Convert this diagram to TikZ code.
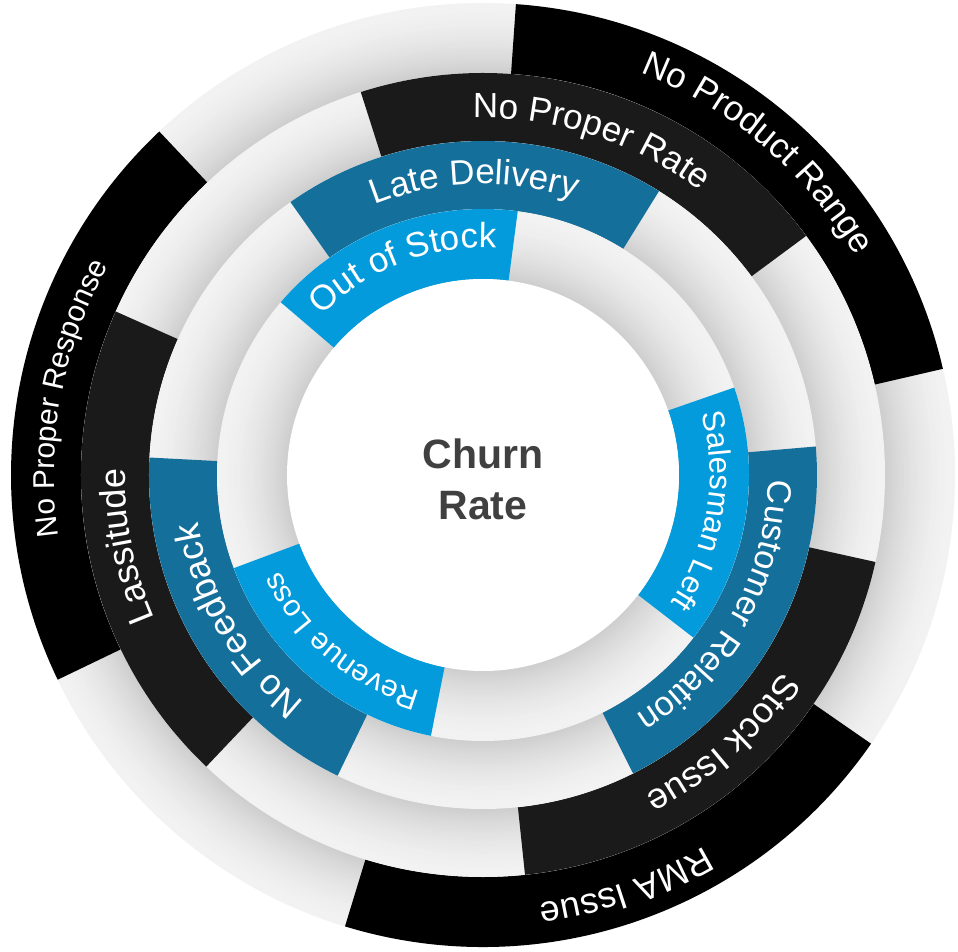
\documentclass[tikz,border=0pt]{standalone}
\usepackage{fontspec}
\setmainfont{Liberation Sans}
\usetikzlibrary{decorations.text}

\definecolor{ringlight}{HTML}{F2F2F2}
\definecolor{ringdark}{HTML}{CDCDCD}
\definecolor{skyblue}{HTML}{039BDB}
\definecolor{seablue}{HTML}{146F9B}
\definecolor{charcoal}{HTML}{1A1A1A}
\definecolor{titlegray}{HTML}{404040}

% grey band shaded from light (outer edge) to dark (inner edge)
\newcommand\shadedband[2]{%
  \foreach \k in {0,...,30}{%
    \pgfmathsetmacro\rr{#1-\k*(#1-#2)/30}%
    \pgfmathtruncatemacro\pp{100*(\k/30)^1.7}%
    \fill[ringdark!\pp!ringlight] (0,0) circle[radius=\rr];
  }}

% coloured block arc: colour, inner radius, outer radius, from angle, to angle
\newcommand\blockarc[5]{%
  \fill[#1] (#4:#3) arc[start angle=#4, end angle=#5, radius=#3]
    -- (#5:#2) arc[start angle=#5, end angle=#4, radius=#2] -- cycle;}

% white label running clockwise: size, baseline radius, from angle, to angle, text
\newcommand\arclabel[5]{%
  \path[decorate, decoration={text along path, text align=center,
      text={|\fontsize{#1}{#1}\selectfont\color{white}|#5}}]
    (#3:#2) arc[start angle=#3, end angle=#4, radius=#2];}

\begin{document}
\begin{tikzpicture}[x=1pt, y=1pt]
  \useasboundingbox (-483,-476) rectangle (475,475);
  \fill[white] (-483,-476) rectangle (475,475);

  % outer band
  \shadedband{472}{402}
  \blockarc{black}{402}{472}{13}{86}
  \blockarc{black}{402}{472}{-107}{-34.7}
  \blockarc{black}{402}{472}{133.3}{205.7}

  % third band
  \shadedband{402}{334}
  \blockarc{charcoal}{334}{402}{36.5}{107.7}
  \blockarc{charcoal}{334}{402}{-84}{-12.5}
  \blockarc{charcoal}{334}{402}{156}{226.5}

  % second band
  \shadedband{334}{266}
  \blockarc{seablue}{266}{334}{58.2}{125.2}
  \blockarc{seablue}{266}{334}{-63.3}{4.9}
  \blockarc{seablue}{266}{334}{177}{244.2}

  % inner band
  \shadedband{266}{196}
  \blockarc{skyblue}{196}{266}{82.5}{139.5}
  \blockarc{skyblue}{196}{266}{-37.7}{19.2}
  \blockarc{skyblue}{196}{266}{200.5}{258.7}

  % centre disc
  \fill[white] (0,0) circle[radius=196];

  % labels
  \arclabel{35}{227}{139.5}{82.5}{Out of Stock}
  \arclabel{31}{227}{19.2}{-37.7}{Salesman Left}
  \arclabel{30}{225}{258.7}{200.5}{Revenue Loss}

  \arclabel{35}{291}{125.2}{58.2}{Late Delivery}
  \arclabel{34}{285}{4.9}{-63.3}{Customer Relation}
  \arclabel{36}{289}{244.2}{177}{No Feedback}

  \arclabel{35}{357}{107.7}{36.5}{No Proper Rate}
  \arclabel{36}{358}{-12.5}{-84}{Stock Issue}
  \arclabel{36}{358}{226.5}{156}{Lassitude}

  \arclabel{35}{432}{86}{13}{No Product Range}
  \arclabel{36}{432}{-34.7}{-107}{RMA Issue}
  \arclabel{30}{429}{205.7}{133.3}{No Proper Response}

  % title
  \node[anchor=base, inner sep=0pt, text=titlegray,
        font=\bfseries\fontsize{41}{41}\selectfont] (churn) at (0,7) {Churn};
  \node[anchor=base, inner sep=0pt, text=titlegray,
        font=\bfseries\fontsize{41}{41}\selectfont] (rate) at (0,-44) {Rate};
\end{tikzpicture}
\end{document}
